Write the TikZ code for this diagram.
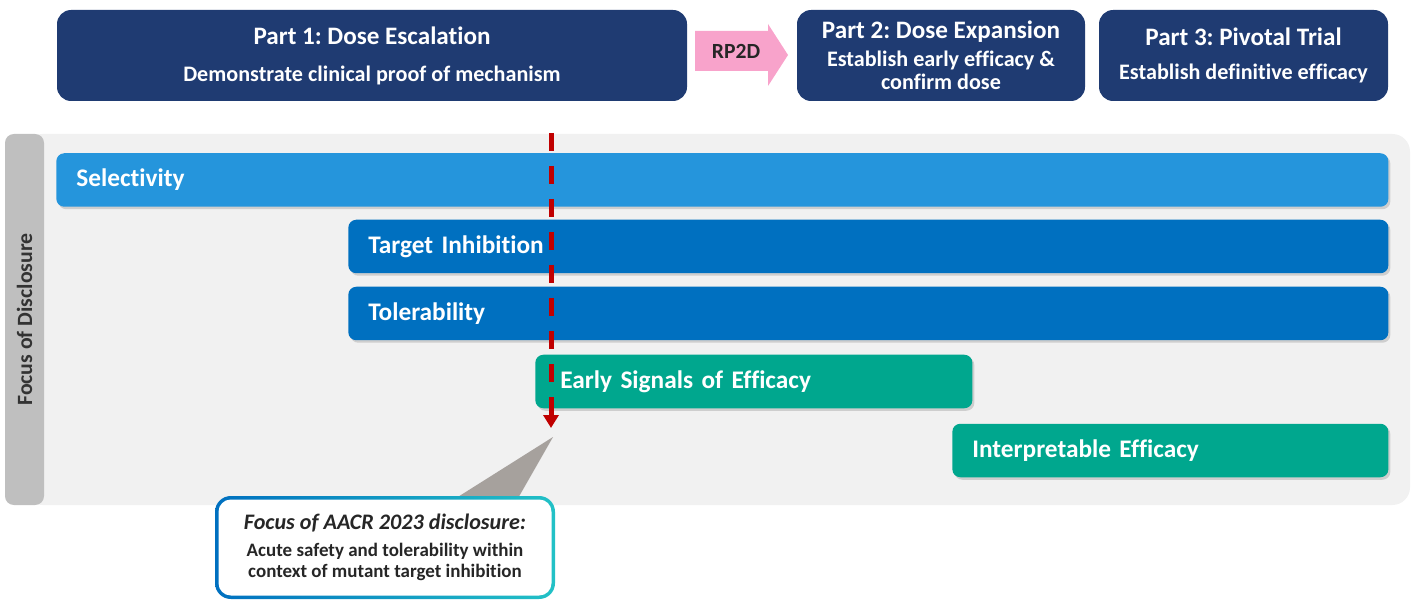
\documentclass[tikz,border=0pt]{standalone}
\usepackage{fontspec}
\setmainfont{Carlito}[Ligatures=NoCommon]
\usepackage{xcolor}
\usepackage{tikz}
\usetikzlibrary{arrows.meta, positioning, calc, shadows}
\frenchspacing

\definecolor{navy}{HTML}{1F3B72}
\definecolor{skyblue}{HTML}{2595DC}
\definecolor{midblue}{HTML}{0070C0}
\definecolor{greenteal}{HTML}{00A78E}
\definecolor{rppink}{HTML}{F8A3CB}
\definecolor{cutred}{HTML}{C00000}
\definecolor{panelgray}{HTML}{F1F1F1}
\definecolor{sidegray}{HTML}{BFBFBF}
\definecolor{pointergray}{HTML}{A6A19D}
\definecolor{calloutcyan}{HTML}{22C1C6}

\begin{document}
\begin{tikzpicture}[
    phase/.style={rectangle, rounded corners=8pt, fill=navy, text=white,
                  minimum height=1.82cm, align=center, font=\bfseries},
    bar/.style={rectangle, rounded corners=4.5pt, text=white, anchor=west,
                minimum height=1.07cm, inner xsep=0.4cm, align=left,
                font=\fontsize{14.4}{17}\selectfont\bfseries,
                drop shadow={shadow xshift=0.04cm, shadow yshift=-0.05cm, opacity=0.3}},
    arrow/.style={-{Triangle[width=0.3cm, length=0.26cm]}, line width=0.1cm, cutred,
                  dash pattern=on 0.36cm off 0.3cm}
]
    \useasboundingbox (0,0) rectangle (28.3,-12.02);

    % Study parts along the top
    \node[phase, minimum width=12.6cm] (p1) at (7.44,-1.11)
        {{\fontsize{14.3}{17}\selectfont Part 1: Dose Escalation}\\[9pt]
         {\fontsize{12.6}{15}\selectfont Demonstrate clinical proof of mechanism}};
    \fill[rppink] (13.9,-0.62) -- (15.36,-0.62) -- (15.36,-0.48) -- (15.76,-1.10)
        -- (15.36,-1.72) -- (15.36,-1.42) -- (13.9,-1.42) -- cycle;
    \node[font=\fontsize{12.3}{15}\selectfont\bfseries, text=black!85] (rp2d) at (14.72,-1.02) {RP2D};
    \node[phase, minimum width=5.76cm] (p2) at (18.82,-1.11)
        {{\fontsize{14.3}{17}\selectfont Part 2: Dose Expansion}\\[4pt]
         {\fontsize{12.6}{15}\selectfont Establish early efficacy \&}\\[1pt]
         {\fontsize{12.6}{15}\selectfont confirm dose}};
    \node[phase, minimum width=5.78cm] (p3) at (24.87,-1.11)
        {{\fontsize{14.3}{17}\selectfont Part 3: Pivotal Trial}\\[7pt]
         {\fontsize{12.6}{15}\selectfont Establish definitive efficacy}};

    % Grey panel and side label
    \fill[panelgray, rounded corners=10pt] (0.5,-2.68) rectangle (28.2,-10.1);
    \node[rectangle, rounded corners=5pt, fill=sidegray, rotate=90,
          minimum width=7.42cm, minimum height=0.78cm, inner sep=0pt,
          font=\fontsize{12.4}{15}\selectfont\bfseries, text=black!80] (side) at (0.49,-6.39)
        {Focus of Disclosure};

    % Disclosure bars
    \node[bar, fill=skyblue, text width=25.84cm] (sel) at (1.12,-3.6) {Selectivity};
    \node[bar, fill=midblue, text width=20.0cm] (tgt) at (6.96,-4.93) {Target Inhibition};
    \node[bar, fill=midblue, text width=20.0cm] (tol) at (6.96,-6.27) {Tolerability};
    \node[bar, fill=greenteal, text width=7.74cm, inner xsep=0.5cm] (early) at (10.7,-7.63)
        {Early Signals of Efficacy};
    \node[bar, fill=greenteal, text width=7.92cm] (interp) at (19.04,-9.01) {Interpretable Efficacy};

    % Cut-off marker
    \coordinate (cuttop) at (11.02,-2.66);
    \coordinate (cuttip) at (11.02,-8.56);
    \draw[arrow] (cuttop) -- (cuttip);

    % Callout
    \fill[pointergray] (11.06,-8.74) -- (9.06,-10.0) -- (10.34,-10.0) -- cycle;
    \shade[left color=midblue, right color=calloutcyan, rounded corners=9pt]
        (4.3,-9.92) rectangle (11.1,-11.98);
    \node[rectangle, rounded corners=7pt, fill=white, minimum width=6.66cm,
          minimum height=1.92cm, align=center, text=black!85] (note) at (7.7,-10.95)
        {{\fontsize{12.6}{15}\selectfont\bfseries\itshape Focus of AACR 2023 disclosure:}\\[3pt]
         {\fontsize{10.8}{13.5}\selectfont\bfseries Acute safety and tolerability within}\\
         {\fontsize{10.8}{13.5}\selectfont\bfseries context of mutant target inhibition}};
\end{tikzpicture}
\end{document}
